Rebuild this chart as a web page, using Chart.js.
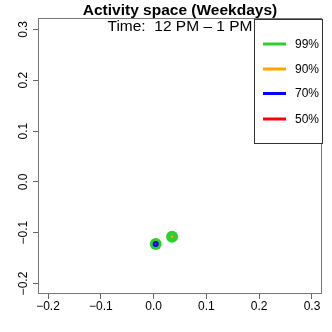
<!DOCTYPE html>
<html>
<head>
<meta charset="utf-8">
<script src="https://cdn.jsdelivr.net/npm/chart.js@4"></script>
<style>
html,body{margin:0;padding:0;background:#fff;}
#c{display:block;}
</style>
</head>
<body>
<canvas id="c" width="332" height="332"></canvas>
<script>
// ---- data ----
const levels = ["99%", "90%", "70%", "50%"];
const levelColors = ["#32CD32", "#FFA500", "#0000FF", "#FF0000"];
const x99 = [0.004, 0.035];
const y99 = [-0.122, -0.108];
const x90 = [0.004, 0.035];
const y90 = [-0.122, -0.108];
const x70 = [0.004];
const y70 = [-0.122];
const x50 = [0.004];
const y50 = [-0.122];
const xTicks = [-0.2, -0.1, 0.0, 0.1, 0.2, 0.3];
const yTicks = [-0.2, -0.1, 0.0, 0.1, 0.2, 0.3];
const titleText = "Activity space (Weekdays)";
const subtitleText = "Time:  12 PM \u2013 1 PM";

const FONT = "'Liberation Sans', Arial, Helvetica, sans-serif";
function pts(xs, ys){ return xs.map((x,i)=>({x:x, y:ys[i]})); }
function fmt(v){ v = Math.round(v*10)/10; return (v<0?'\u2212':'') + Math.abs(v).toFixed(1); }

const sizes = [6, 1.2, 3, 1];
const series = [[x99,y99],[x90,y90],[x70,y70],[x50,y50]];
const datasets = series.map((s,i)=>({
  label: levels[i],
  data: pts(s[0], s[1]),
  backgroundColor: levelColors[i],
  borderColor: levelColors[i],
  borderWidth: 0,
  pointRadius: sizes[i],
  pointHoverRadius: sizes[i],
  order: series.length - i
}));

const deco = {
  id: 'deco',
  afterDraw(chart){
    const ctx = chart.ctx, a = chart.chartArea;
    ctx.save();
    // box
    ctx.strokeStyle = '#777';
    ctx.lineWidth = 1;
    ctx.strokeRect(a.left+0.5, a.top+0.5, a.right-a.left-1, a.bottom-a.top-1);
    // y tick labels rotated
    const ys = chart.scales.y;
    ctx.fillStyle = '#000';
    ctx.font = '12px ' + FONT;
    ctx.textAlign = 'center';
    ctx.textBaseline = 'alphabetic';
    yTicks.forEach(v=>{
      const py = ys.getPixelForValue(v);
      ctx.save();
      ctx.translate(26.5, py);
      ctx.rotate(-Math.PI/2);
      ctx.fillText(fmt(v), 0, 0);
      ctx.restore();
    });
    const cx = (a.left + a.right)/2;
    // title
    ctx.font = 'bold 15.5px ' + FONT;
    ctx.fillText(titleText, cx, 14.5);
    ctx.font = '15.5px ' + FONT;
    ctx.fillText(subtitleText, cx, 30.5);
    // legend box
    const lx = 254, ly = 19, lw = 68, lh = 124;
    ctx.fillStyle = '#fff';
    ctx.fillRect(lx, ly, lw, lh);
    ctx.strokeStyle = '#333';
    ctx.strokeRect(lx+0.5, ly+0.5, lw, lh);
    const rows = [44, 69, 93.5, 119];
    ctx.font = '12px ' + FONT;
    ctx.textAlign = 'left';
    ctx.textBaseline = 'middle';
    levels.forEach((l,i)=>{
      ctx.strokeStyle = levelColors[i];
      ctx.lineWidth = 3;
      ctx.beginPath();
      ctx.moveTo(263, rows[i]);
      ctx.lineTo(286, rows[i]);
      ctx.stroke();
      ctx.fillStyle = '#000';
      ctx.fillText(l, 295, rows[i]+0.5);
    });
    ctx.restore();
  }
};

new Chart(document.getElementById('c'), {
  type: 'scatter',
  data: { datasets: datasets },
  options: {
    responsive: false,
    devicePixelRatio: 1,
    animation: false,
    layout: { padding: { top: 18, right: 10, left: 0, bottom: 0 } },
    plugins: { legend: { display: false }, tooltip: { enabled: false }, title: { display: false } },
    scales: {
      x: {
        type: 'linear', min: -0.219, max: 0.319,
        afterFit(s){ s.height = 38; },
        afterBuildTicks(s){ s.ticks = xTicks.map(v=>({value:v})); },
        border: { display: false },
        grid: { drawOnChartArea: false, drawTicks: true, tickLength: 5, color: '#666' },
        ticks: { includeBounds: false, color: '#000', font: { size: 12, family: FONT }, padding: 0, maxRotation: 0, autoSkip: false, callback: v => fmt(v) }
      },
      y: {
        type: 'linear', min: -0.2206, max: 0.3225,
        afterFit(s){ s.width = 38; },
        afterBuildTicks(s){ s.ticks = yTicks.map(v=>({value:v})); },
        border: { display: false },
        grid: { drawOnChartArea: false, drawTicks: true, tickLength: 5, color: '#666' },
        ticks: { display: false, includeBounds: false }
      }
    }
  },
  plugins: [deco]
});
</script>
</body>
</html>
